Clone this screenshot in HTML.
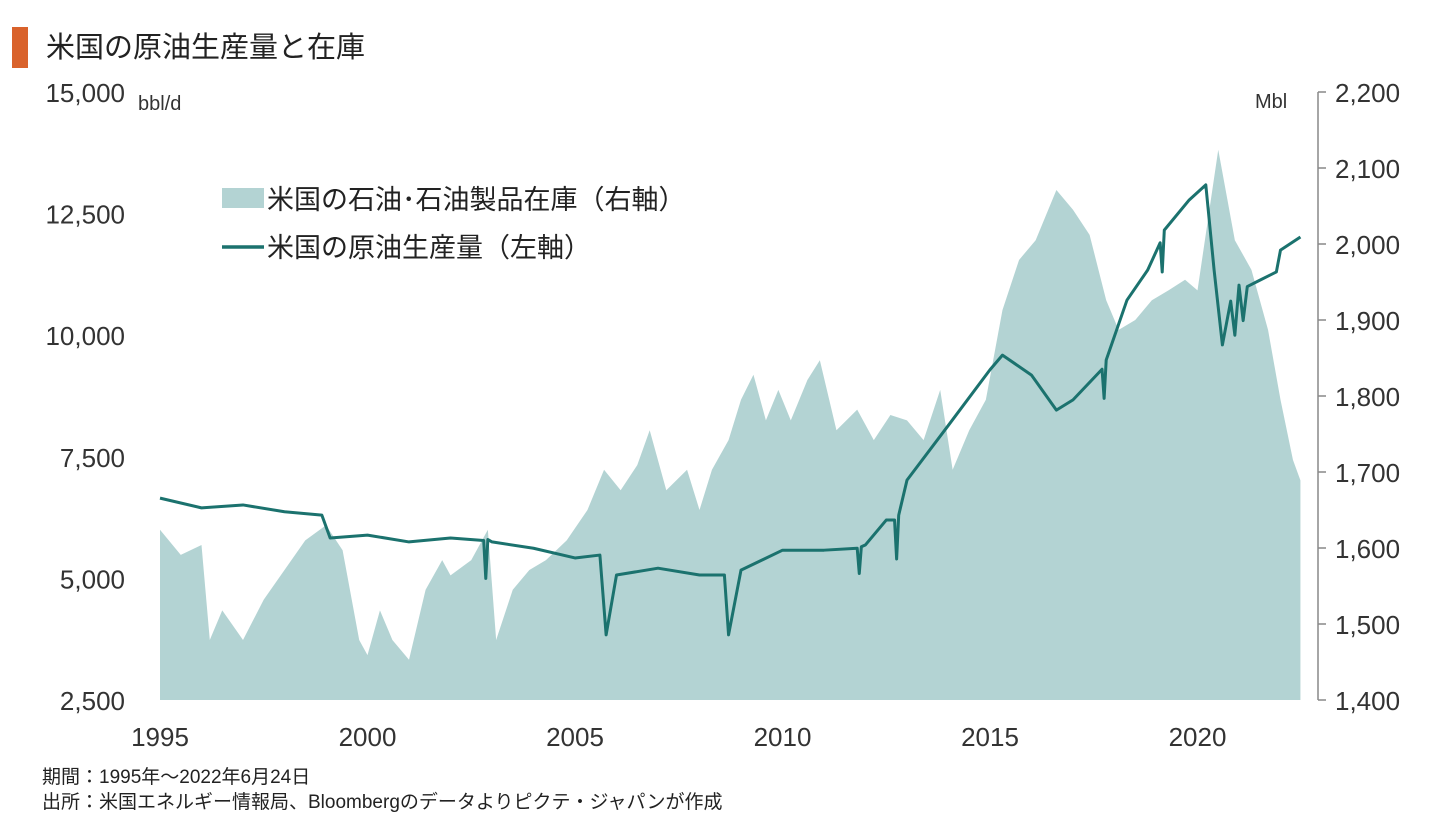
<!DOCTYPE html>
<html><head><meta charset="utf-8">
<style>
body{margin:0;background:#fff;width:1438px;height:826px;overflow:hidden;font-family:"Liberation Sans","Noto Sans CJK JP",sans-serif;}
svg{display:block}
</style></head>
<body>
<svg id="chart" width="1438" height="826">
<rect x="12" y="27" width="16" height="41" fill="#d9622b"/>
<text x="46" y="57" font-size="29" fill="#222">米国の原油生産量と在庫</text>
<text x="138" y="110" font-size="20" fill="#333">bbl/d</text>
<text x="1255" y="108" font-size="20" fill="#333">Mbl</text>
<g>
<rect x="222" y="188" width="42" height="20" fill="#b3d3d3"/>
<text x="267" y="209" font-size="27" fill="#222">米国の石油･石油製品在庫（右軸）</text>
<line x1="222" y1="247" x2="264" y2="247" stroke="#1b726e" stroke-width="3.5"/>
<text x="267" y="257" font-size="27" fill="#222">米国の原油生産量（左軸）</text>
</g>
<text x="42" y="783" font-size="19" fill="#222">期間：1995年～2022年6月24日</text>
<text x="42" y="808" font-size="19" fill="#222">出所：米国エネルギー情報局、Bloombergのデータよりピクテ・ジャパンが作成</text>
</svg>
<script>
const invYears=[1995,1995.5,1996,1996.2,1996.5,1997,1997.5,1998,1998.5,1999,1999.4,1999.8,2000,2000.3,2000.6,2001,2001.4,2001.8,2002,2002.5,2002.9,2003.1,2003.5,2003.9,2004.3,2004.8,2005.3,2005.7,2006.1,2006.5,2006.8,2007.2,2007.7,2008,2008.3,2008.7,2009,2009.3,2009.6,2009.9,2010.2,2010.6,2010.9,2011.3,2011.8,2012.2,2012.6,2013,2013.4,2013.8,2014.1,2014.5,2014.9,2015.3,2015.7,2016.1,2016.6,2017,2017.4,2017.8,2018.1,2018.5,2018.9,2019.3,2019.7,2020,2020.5,2020.9,2021.3,2021.7,2022,2022.3,2022.48];
const invValues=[1624,1591,1604,1479,1518,1479,1532,1571,1610,1630,1597,1479,1459,1518,1479,1453,1545,1584,1564,1584,1624,1479,1545,1571,1584,1610,1650,1703,1676,1709,1755,1676,1703,1650,1703,1742,1795,1828,1768,1808,1768,1821,1847,1755,1782,1742,1775,1768,1742,1808,1703,1755,1795,1913,1979,2005,2071,2045,2012,1926,1887,1900,1926,1939,1953,1939,2124,2005,1966,1887,1795,1716,1689];
const prodYears=[1995,1996,1997,1998,1998.9,1999.1,2000,2001,2002,2002.8,2002.85,2002.9,2003,2004,2005,2005.6,2005.75,2006,2007,2008,2008.6,2008.7,2009,2010,2011,2011.8,2011.85,2011.9,2012,2012.5,2012.7,2012.75,2012.8,2013,2014,2015,2015.3,2016,2016.6,2017,2017.7,2017.75,2017.8,2018.3,2018.8,2019.1,2019.15,2019.2,2019.8,2020.2,2020.4,2020.6,2020.8,2020.9,2021,2021.1,2021.2,2021.5,2021.9,2022,2022.48];
const prodValues=[6650,6450,6510,6370,6300,5830,5890,5750,5830,5780,5000,5800,5750,5620,5420,5480,3840,5070,5210,5070,5070,3840,5170,5580,5580,5620,5100,5650,5690,6200,6200,5400,6300,7020,8150,9290,9590,9180,8460,8670,9300,8700,9490,10720,11340,11900,11300,12160,12780,13090,11340,9800,10700,10000,11030,10300,11000,11130,11300,11750,12020];
const leftTicks=[2500,5000,7500,10000,12500,15000];
const leftTickLabels=["2,500","5,000","7,500","10,000","12,500","15,000"];
const rightTicks=[1400,1500,1600,1700,1800,1900,2000,2100,2200];
const rightTickLabels=["1,400","1,500","1,600","1,700","1,800","1,900","2,000","2,100","2,200"];
const xTicks=[1995,2000,2005,2010,2015,2020];

const NS="http://www.w3.org/2000/svg";
const svg=document.getElementById('chart');
const x=yr=>160+(yr-1995)*41.5;
const yL=v=>700-(v-2500)/12500*608;
const yR=v=>700-(v-1400)/800*608;
function mk(tag,attrs,parent){const e=document.createElementNS(NS,tag);for(const k in attrs)e.setAttribute(k,attrs[k]);(parent||svg).appendChild(e);return e;}

let d=`M${x(invYears[0])},${yR(1400)}`;
invYears.forEach((yr,i)=>{d+=` L${x(yr)},${yR(invValues[i])}`;});
d+=` L${x(invYears[invYears.length-1])},${yR(1400)} Z`;
const area=mk('path',{d:d,fill:'#b3d3d3'});


svg.insertBefore(area,svg.children[2]);

const pts=prodYears.map((yr,i)=>`${x(yr)},${yL(prodValues[i])}`).join(' ');
const line=mk('polyline',{points:pts,fill:'none',stroke:'#1b726e','stroke-width':3,'stroke-linejoin':'round'});



const ax=mk('line',{x1:1318,y1:92,x2:1318,y2:700,stroke:'#888','stroke-width':1.5});



leftTicks.forEach((v,i)=>{
  const t=mk('text',{x:125,y:yL(v)+10,'font-size':26,fill:'#333','text-anchor':'end'});
  t.textContent=leftTickLabels[i];
  
  
});
rightTicks.forEach((v,i)=>{
  const tk=mk('line',{x1:1318,y1:yR(v),x2:1326,y2:yR(v),stroke:'#888','stroke-width':1.5});
  
  
  const t=mk('text',{x:1335,y:yR(v)+10,'font-size':26,fill:'#333'});
  t.textContent=rightTickLabels[i];
  
  
});
xTicks.forEach(v=>{
  const t=mk('text',{x:x(v),y:746,'font-size':26,fill:'#333','text-anchor':'middle'});
  t.textContent=String(v);
  
  
});
</script>
</body></html>
